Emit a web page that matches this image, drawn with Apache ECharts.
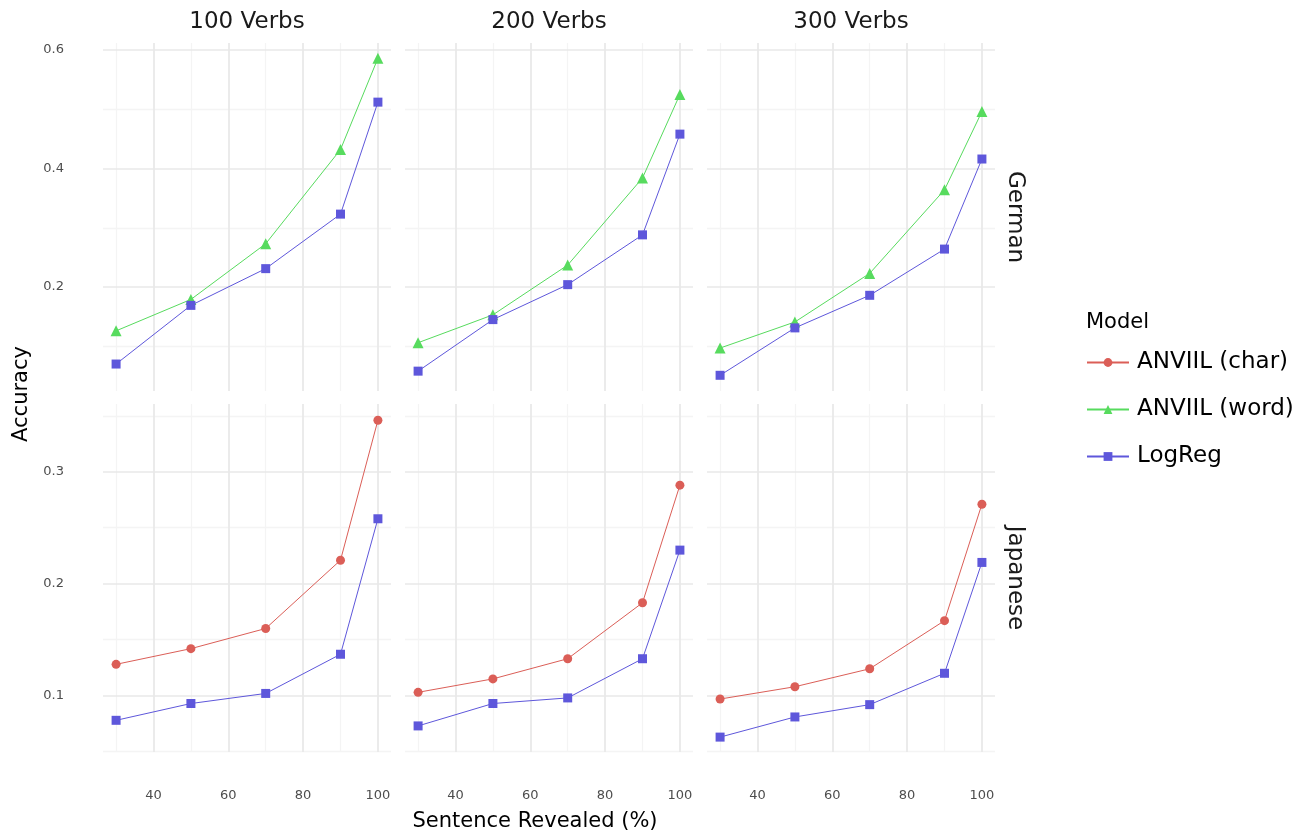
<!DOCTYPE html>
<html>
<head>
<meta charset="utf-8">
<script src="https://cdn.jsdelivr.net/npm/echarts@6/dist/echarts.min.js"></script>
<style>
html, body { margin: 0; padding: 0; background: #ffffff; }
#chart { width: 1312px; height: 837px; }
</style>
</head>
<body>
<div id="chart"></div>
<script>
// ---- data ----
const xValues = [30, 50, 70, 90, 100];
const columns = ['100 Verbs', '200 Verbs', '300 Verbs'];
const rows = ['German', 'Japanese'];
const models = ['ANVIIL (char)', 'ANVIIL (word)', 'LogReg'];

// German
const germanWord100 = [0.126, 0.179, 0.273, 0.432, 0.586];
const germanWord200 = [0.106, 0.153, 0.237, 0.384, 0.525];
const germanWord300 = [0.097, 0.141, 0.223, 0.364, 0.496];
const germanLogReg100 = [0.070, 0.169, 0.231, 0.323, 0.512];
const germanLogReg200 = [0.058, 0.145, 0.204, 0.288, 0.458];
const germanLogReg300 = [0.051, 0.131, 0.186, 0.264, 0.416];

// Japanese
const japaneseChar100 = [0.128, 0.142, 0.160, 0.221, 0.346];
const japaneseChar200 = [0.103, 0.115, 0.133, 0.183, 0.288];
const japaneseChar300 = [0.097, 0.108, 0.124, 0.167, 0.271];
const japaneseLogReg100 = [0.078, 0.093, 0.102, 0.137, 0.258];
const japaneseLogReg200 = [0.073, 0.093, 0.098, 0.133, 0.230];
const japaneseLogReg300 = [0.063, 0.081, 0.092, 0.120, 0.219];

// tick labels / gridlines
const xTicks = [40, 60, 80, 100];
const xMinorTicks = [30, 50, 70, 90];
const germanTicks = [0.2, 0.4, 0.6];
const germanMinorTicks = [0.1, 0.3, 0.5];
const japaneseTicks = [0.1, 0.2, 0.3];
const japaneseMinorTicks = [0.05, 0.15, 0.25, 0.35];

// ---- layout / style ----
const FONT = 'DejaVu Sans';
const colors = { 'ANVIIL (char)': '#DB5E57', 'ANVIIL (word)': '#57DB5E', 'LogReg': '#5E57DB' };
const symbols = { 'ANVIIL (char)': 'circle', 'ANVIIL (word)': 'triangle', 'LogReg': 'rect' };
const symbolSizes = { 'ANVIIL (char)': 9, 'ANVIIL (word)': 11, 'LogReg': 9 };

const colLeft = [103, 405, 707];
const rowTop = [43, 404];
const panelW = 288, panelH = 348;
const xRange = [26.5, 103.5];
const yRanges = [[0.0245, 0.6118], [0.0497, 0.3605]];

const panelData = [
  [ { 'ANVIIL (word)': germanWord100, 'LogReg': germanLogReg100 },
    { 'ANVIIL (word)': germanWord200, 'LogReg': germanLogReg200 },
    { 'ANVIIL (word)': germanWord300, 'LogReg': germanLogReg300 } ],
  [ { 'ANVIIL (char)': japaneseChar100, 'LogReg': japaneseLogReg100 },
    { 'ANVIIL (char)': japaneseChar200, 'LogReg': japaneseLogReg200 },
    { 'ANVIIL (char)': japaneseChar300, 'LogReg': japaneseLogReg300 } ]
];
const yTicks = [germanTicks, japaneseTicks];
const yMinorTicks = [germanMinorTicks, japaneseMinorTicks];

const grids = [], xAxes = [], yAxes = [], series = [];
const majorStyle = { color: '#E8E8E8', width: 1.7, type: 'solid' };
const minorStyle = { color: '#F4F4F4', width: 1.3, type: 'solid' };

for (let r = 0; r < 2; r++) {
  for (let c = 0; c < 3; c++) {
    const idx = r * 3 + c;
    grids.push({ left: colLeft[c], top: rowTop[r], width: panelW, height: panelH, outerBoundsMode: 'none', containLabel: false });
    xAxes.push({
      gridIndex: idx, type: 'value', min: xRange[0], max: xRange[1],
      axisLine: { show: false }, axisTick: { show: false }, splitLine: { show: false },
      axisLabel: { show: r === 1, customValues: xTicks, margin: 37, fontSize: 13, color: '#4D4D4D', fontFamily: FONT }
    });
    yAxes.push({
      gridIndex: idx, type: 'value', min: yRanges[r][0], max: yRanges[r][1],
      axisLine: { show: false }, axisTick: { show: false }, splitLine: { show: false },
      axisLabel: { show: c === 0, customValues: yTicks[r], margin: 39, fontSize: 13, color: '#4D4D4D', fontFamily: FONT,
                   formatter: v => Number(v).toFixed(1) }
    });
    const ml = [];
    xMinorTicks.forEach(v => ml.push({ xAxis: v, lineStyle: minorStyle }));
    yMinorTicks[r].forEach(v => ml.push({ yAxis: v, lineStyle: minorStyle }));
    xTicks.forEach(v => ml.push({ xAxis: v, lineStyle: majorStyle }));
    yTicks[r].forEach(v => ml.push({ yAxis: v, lineStyle: majorStyle }));
    series.push({
      type: 'line', name: 'grid' + idx, xAxisIndex: idx, yAxisIndex: idx, data: [], silent: true, z: 0,
      markLine: { silent: true, symbol: ['none', 'none'], label: { show: false }, z: 0, animation: false,
                  emphasis: { disabled: true }, data: ml }
    });
    models.forEach(m => {
      const vals = panelData[r][c][m];
      if (!vals) return;
      series.push({
        type: 'line', name: m, xAxisIndex: idx, yAxisIndex: idx, z: 2,
        data: xValues.map((x, i) => [x, vals[i]]),
        symbol: symbols[m], symbolSize: symbolSizes[m], showSymbol: true, showAllSymbol: true,
        lineStyle: { color: colors[m], width: 1 },
        itemStyle: { color: colors[m] },
        emphasis: { disabled: true }
      });
    });
  }
}

const graphics = [];
columns.forEach((t, c) => graphics.push({
  type: 'text', x: colLeft[c] + panelW / 2, y: 22.5, silent: true,
  style: { text: t, font: '23px "' + FONT + '"', fill: '#1A1A1A', align: 'center', verticalAlign: 'middle', textAlign: 'center', textVerticalAlign: 'middle' }
}));
rows.forEach((t, r) => graphics.push({
  type: 'text', x: 1015, y: rowTop[r] + panelH / 2, rotation: -Math.PI / 2, silent: true,
  style: { text: t, font: '23px "' + FONT + '"', fill: '#1A1A1A', align: 'center', verticalAlign: 'middle', textAlign: 'center', textVerticalAlign: 'middle' }
}));
graphics.push({
  type: 'text', x: 22, y: 394, rotation: Math.PI / 2, silent: true,
  style: { text: 'Accuracy', font: '21px "' + FONT + '"', fill: '#000000', align: 'center', verticalAlign: 'middle', textAlign: 'center', textVerticalAlign: 'middle' }
});
graphics.push({
  type: 'text', x: 535, y: 822, silent: true,
  style: { text: 'Sentence Revealed (%)', font: '21px "' + FONT + '"', fill: '#000000', align: 'center', verticalAlign: 'middle', textAlign: 'center', textVerticalAlign: 'middle' }
});
graphics.push({
  type: 'text', x: 1086, y: 323, silent: true,
  style: { text: 'Model', font: '21px "' + FONT + '"', fill: '#000000', align: 'left', verticalAlign: 'middle', textAlign: 'left', textVerticalAlign: 'middle' }
});

const chart = echarts.init(document.getElementById('chart'), null, { renderer: 'canvas' });
chart.setOption({
  animation: false,
  backgroundColor: '#ffffff',
  grid: grids,
  xAxis: xAxes,
  yAxis: yAxes,
  series: series,
  graphic: graphics,
  legend: {
    data: models, orient: 'vertical', left: 1081, top: 346,
    itemWidth: 42, itemHeight: 11, itemGap: 24, selectedMode: false,
    textStyle: { fontSize: 23, color: '#000000', fontFamily: FONT, padding: [0, 0, 0, 3] }
  }
});
</script>
</body>
</html>
